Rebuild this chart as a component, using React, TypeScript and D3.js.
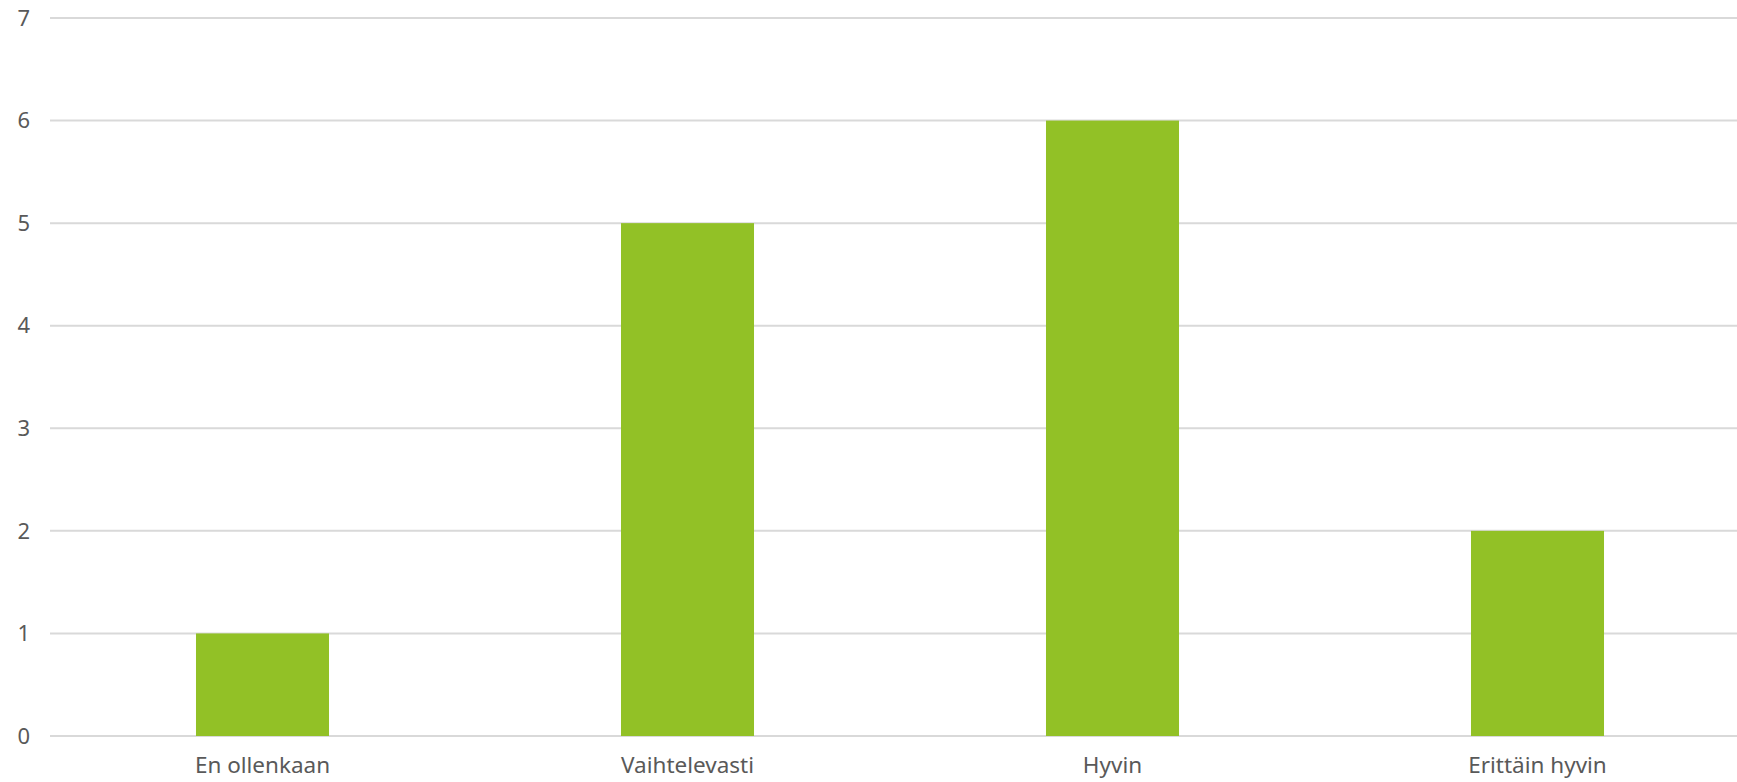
import React from "react";
import * as d3 from "d3";

const categories = ["En ollenkaan", "Vaihtelevasti", "Hyvin", "Erittäin hyvin"];
const values = [1, 5, 6, 2];
const yTicks = [0, 1, 2, 3, 4, 5, 6, 7];

const W = 1737;
const H = 782;
const left = 50;
const right = 1750;
const top = 18;
const bottom = 736;

export default function App() {
  const x = d3.scaleBand<string>().domain(categories).range([left, right]).paddingInner(0.687).paddingOuter(0.3435);
  const y = d3.scaleLinear().domain([0, 7]).range([bottom, top]);
  const font = "'Noto Sans', 'Open Sans', sans-serif";
  return (
    <svg width={W} height={H} style={{ position: "absolute", left: 0, top: 0 }}>
      <rect width={W} height={H} fill="#fff" />
      {yTicks.map((t) => (
        <g key={t}>
          <line x1={left} x2={W} y1={y(t)} y2={y(t)} stroke="#d9d9d9" strokeWidth={2} />
          <text x={30} y={y(t)} dy="0.35em" textAnchor="end" fontFamily={font} fontSize={22} fill="#595959">
            {t}
          </text>
        </g>
      ))}
      {categories.map((c, i) => (
        <g key={c}>
          <rect x={x(c)} y={y(values[i])} width={x.bandwidth()} height={y(0) - y(values[i])} fill="#92c126" />
          <text x={(x(c) as number) + x.bandwidth() / 2} y={773} textAnchor="middle" fontFamily={font} fontSize={22.5} fill="#595959">
            {c}
          </text>
        </g>
      ))}
    </svg>
  );
}
